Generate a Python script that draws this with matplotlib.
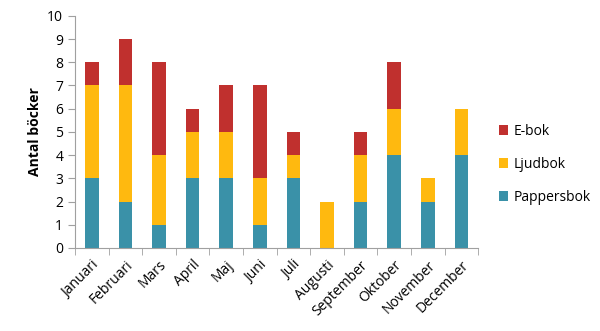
import matplotlib.pyplot as plt
import numpy as np

months = ['Januari', 'Februari', 'Mars', 'April', 'Maj', 'Juni', 'Juli',
          'Augusti', 'September', 'Oktober', 'November', 'December']
pappersbok = [3, 2, 1, 3, 3, 1, 3, 0, 2, 4, 2, 4]
ljudbok = [4, 5, 3, 2, 2, 2, 1, 2, 2, 2, 1, 2]
ebok = [1, 2, 4, 1, 2, 4, 1, 0, 1, 2, 0, 0]

plt.rcParams['font.family'] = ['Open Sans', 'DejaVu Sans']

fig = plt.figure(figsize=(6, 3.31), dpi=100)
ax = fig.add_axes([0.125, 0.251, 0.672, 0.701])

x = np.arange(len(months))
w = 0.4
p = np.array(pappersbok)
l = np.array(ljudbok)
e = np.array(ebok)
ax.bar(x, p, w, color='#3A91A8', label='Pappersbok')
ax.bar(x, l, w, bottom=p, color='#FFB90F', label='Ljudbok')
ax.bar(x, e, w, bottom=p + l, color='#C0302E', label='E-bok')

ax.set_xlim(-0.5, len(months) - 0.5)
ax.set_ylim(0, 10)
ax.set_yticks(range(0, 11))
ax.set_xticks(x)
ax.set_xticklabels(months, rotation=45, ha='right', rotation_mode='anchor')
ax.set_xticks(np.arange(-0.5, len(months), 1), minor=True)
ax.tick_params(axis='x', which='major', length=0, labelsize=10, pad=7)
ax.tick_params(axis='x', which='minor', length=5, color='#A0A0A0', direction='out')
ax.tick_params(axis='y', length=5, color='#A0A0A0', labelsize=10)
ax.set_ylabel('Antal böcker', fontsize=10, fontweight='bold')

for s in ['top', 'right']:
    ax.spines[s].set_visible(False)
for s in ['left', 'bottom']:
    ax.spines[s].set_color('#A0A0A0')

handles, labels = ax.get_legend_handles_labels()
ax.legend(handles[::-1], labels[::-1], loc='center left', bbox_to_anchor=(1.02, 0.36),
          frameon=False, fontsize=10, handlelength=0.7, handleheight=0.7,
          labelspacing=1.3, handletextpad=0.4)

fig.savefig('out.png', dpi=100)
